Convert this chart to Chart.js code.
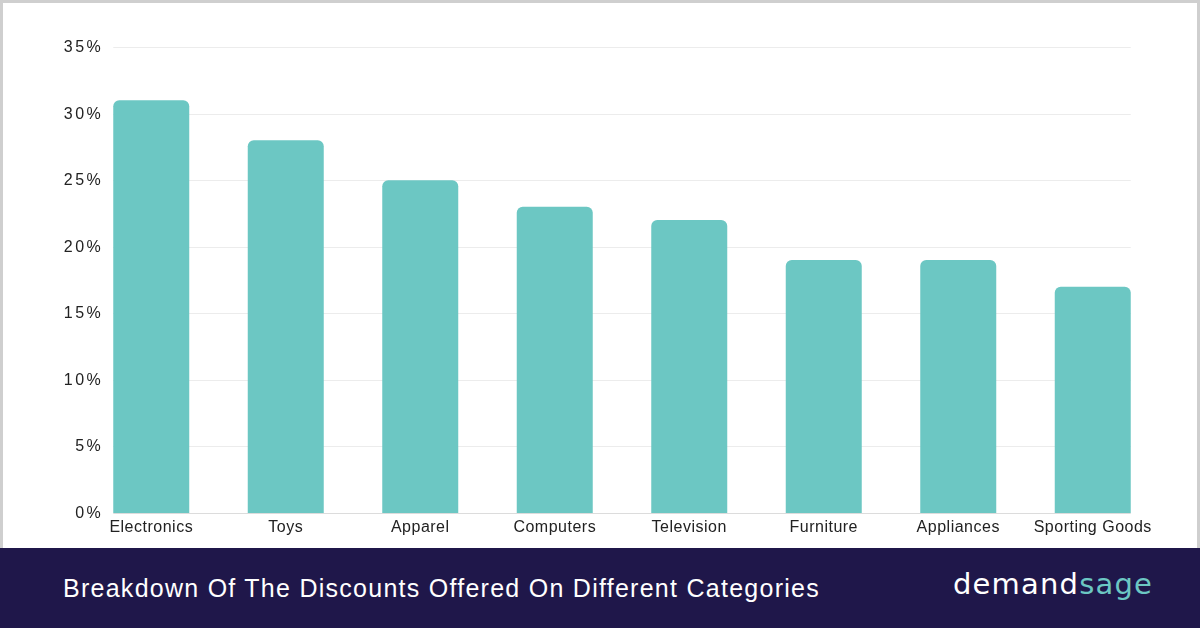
<!DOCTYPE html>
<html>
<head>
<meta charset="utf-8">
<script src="https://cdn.jsdelivr.net/npm/chart.js@4"></script>
<style>
  html, body { margin: 0; padding: 0; background: #fff; }
  body { width: 1200px; height: 628px; position: relative; overflow: hidden; font-family: "Liberation Sans", Arial, sans-serif; }
  #wrap { position: absolute; left: 0; top: 0; width: 1200px; height: 548px; }
  .edge { position: absolute; background: #cfcfcf; }
  #banner { position: absolute; left: 0; top: 548px; width: 1200px; height: 80px; background: #1f174a; }
  #title { position: absolute; left: 63px; top: 573px; color: #fff; font-size: 25px; line-height: 30px; white-space: nowrap; }
  #logo { position: absolute; left: 953px; top: 567px; font-family: "DejaVu Sans", sans-serif; font-size: 29px; line-height: 34px; color: #fff; white-space: nowrap; }
  #logo span { color: #6cc7c3; }
</style>
</head>
<body>
<div id="wrap"><canvas id="chart" width="1200" height="548"></canvas></div>
<div class="edge" style="left:0;top:0;width:1200px;height:3px"></div>
<div class="edge" style="left:0;top:0;width:3px;height:548px"></div>
<div class="edge" style="left:1197px;top:0;width:3px;height:548px"></div>
<div id="banner"></div>
<div id="title">Breakdown Of The Discounts Offered On Different Categories</div>
<div id="logo">demand<span>sage</span></div>
<script>
const categories = ["Electronics", "Toys", "Apparel", "Computers", "Television", "Furniture", "Appliances", "Sporting Goods"];
const discounts = [31, 28, 25, 23, 22, 19, 19, 17];
const yTicks = [0, 5, 10, 15, 20, 25, 30, 35];

// stretch banner texts to the widths in the original
function fitWidth(el, target) {
  const n = el.textContent.length;
  const w = el.getBoundingClientRect().width;
  el.style.letterSpacing = ((target - w) / n) + "px";
}
fitWidth(document.getElementById("title"), 757);
fitWidth(document.getElementById("logo"), 200);

// grid lines and y labels: lines only span first bar edge to last bar edge
const gridPlugin = {
  id: "shortGrid",
  beforeDraw(chart) {
    chart.ctx.letterSpacing = "0.5px";
  },
  beforeDatasetsDraw(chart) {
    const ctx = chart.ctx;
    const meta = chart.getDatasetMeta(0);
    const first = meta.data[0], last = meta.data[meta.data.length - 1];
    const x0 = first.x - first.width / 2;
    const x1 = last.x + last.width / 2;
    const y = chart.scales.y;
    ctx.save();
    ctx.lineWidth = 1;
    ctx.font = "16px 'Liberation Sans'";
    ctx.fillStyle = "#222";
    ctx.textAlign = "right";
    ctx.textBaseline = "middle";
    ctx.letterSpacing = "2.5px";
    yTicks.forEach(v => {
      const py = Math.round(y.getPixelForValue(v)) + 0.5;
      ctx.strokeStyle = v === 0 ? "#dcdcdc" : "#ececec";
      ctx.beginPath();
      ctx.moveTo(x0, py);
      ctx.lineTo(x1, py);
      ctx.stroke();
      ctx.fillText(v + "%", x0 - 10, py);
    });
    ctx.restore();
  }
};

new Chart(document.getElementById("chart"), {
  type: "bar",
  data: {
    labels: categories,
    datasets: [{
      data: discounts,
      backgroundColor: "#6cc7c3",
      borderRadius: { topLeft: 6, topRight: 6 },
      borderSkipped: "bottom",
      barPercentage: 0.565,
      categoryPercentage: 1
    }]
  },
  options: {
    responsive: false,
    animation: false,
    devicePixelRatio: 1,
    layout: { padding: { left: 0, right: 40, top: 47, bottom: 0 } },
    plugins: { legend: { display: false }, tooltip: { enabled: false } },
    scales: {
      x: {
        grid: { display: false },
        border: { display: false },
        ticks: { color: "#222", font: { family: "Liberation Sans", size: 16 }, padding: -3, maxRotation: 0 },
        afterFit(scale) { scale.height = 35; }
      },
      y: {
        min: 0,
        max: 35,
        afterBuildTicks(scale) { scale.ticks = yTicks.map(v => ({ value: v })); },
        grid: { display: false },
        border: { display: false },
        ticks: { display: false },
        afterFit(scale) { scale.width = 84; }
      }
    }
  },
  plugins: [gridPlugin]
});
</script>
</body>
</html>
